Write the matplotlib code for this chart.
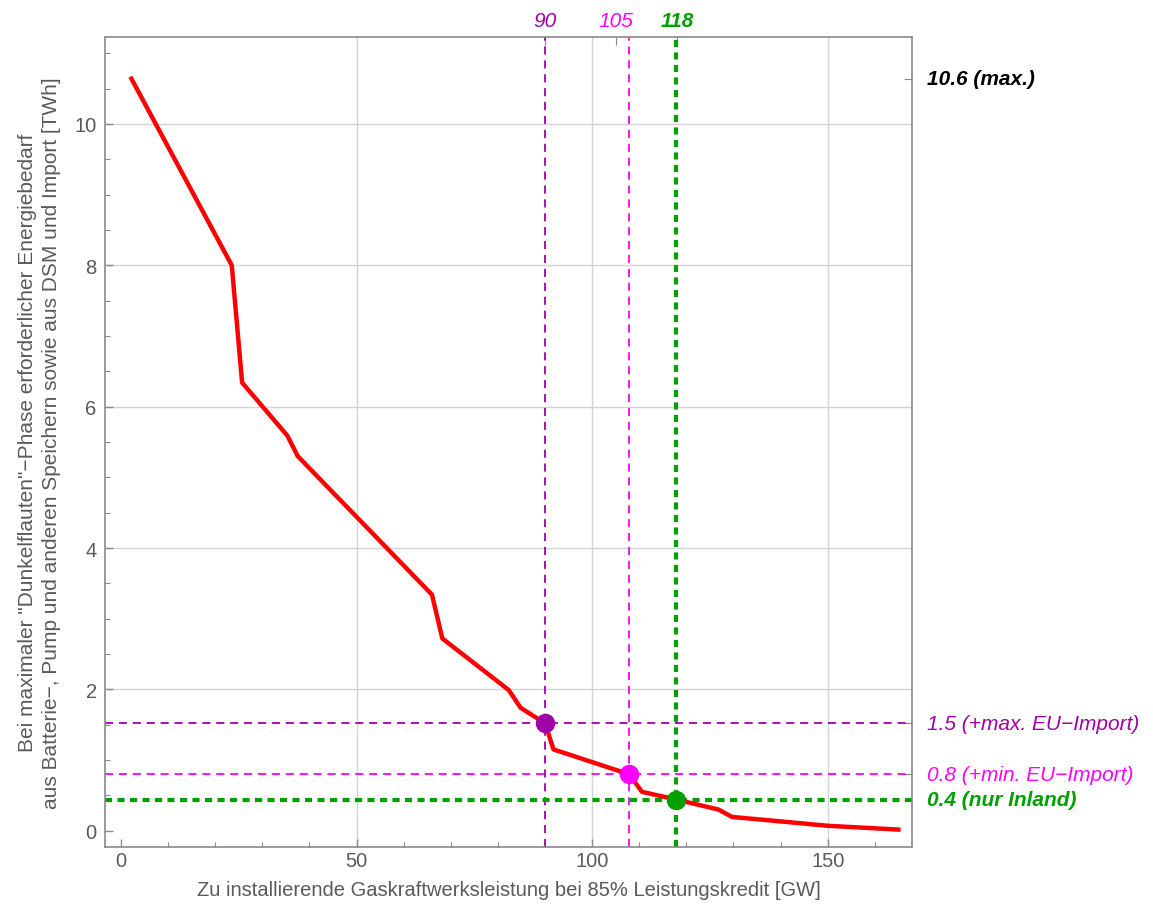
import numpy as np
import matplotlib.pyplot as plt
from matplotlib.ticker import MultipleLocator

plt.rcParams['font.family'] = ['Liberation Sans', 'DejaVu Sans']

# gas capacity [GW] vs. required storage/import energy [TWh]
gas_gw = [2.2, 23.5, 25.7, 35.3, 37.5, 66.0, 68.2, 82.3, 84.8, 90.0, 91.8,
          107.8, 110.6, 117.9, 126.8, 129.7, 137.1, 150.0, 165.0]
energy_twh = [10.64, 8.00, 6.34, 5.59, 5.30, 3.34, 2.72, 1.99, 1.74, 1.52, 1.15,
              0.80, 0.55, 0.44, 0.30, 0.195, 0.15, 0.07, 0.016]

# scenarios: capacity, energy, top tick, colour, text
scen_gw = [90.0, 107.8, 117.9]
scen_twh = [1.52, 0.80, 0.44]
scen_top = [90, 105, 118]
scen_col = ['#a000a8', '#ff00ff', '#00a000']
scen_txt = ['(+max. EU\u2212Import)', '(+min. EU\u2212Import)', '(nur Inland)']
scen_bold = [False, False, True]

grey = '#8a8a8a'
txt_grey = '#5a5a5a'

fig = plt.figure(figsize=(11.53, 9.12), dpi=100)
ax = fig.add_axes([0.0911, 0.0702, 0.7003, 0.8881])

ax.set_xlim(-3.4, 168.0)
ax.set_ylim(-0.23, 11.23)

for gx in [50, 100, 150]:
    ax.axvline(gx, color='#d4d4d4', lw=1.0, zorder=0)
for gy in [2, 4, 6, 8, 10]:
    ax.axhline(gy, color='#d4d4d4', lw=1.0, zorder=0)

# scenario cross-hairs
for gx, gy, c, b in zip(scen_gw, scen_twh, scen_col, scen_bold):
    lw = 3.0 if b else 1.3
    dash = (1.7, 1.3) if b else (4.5, 3.2)
    ax.axvline(gx, color=c, lw=lw, dashes=dash, zorder=2)
    ax.axhline(gy, color=c, lw=lw, dashes=dash, zorder=2)

ax.plot(gas_gw, energy_twh, color='#ff0000', lw=3.2, zorder=3)

for gx, gy, c in zip(scen_gw, scen_twh, scen_col):
    ax.plot(gx, gy, 'o', color=c, ms=13, zorder=4)

ax.set_xticks([0, 50, 100, 150])
ax.set_yticks([0, 2, 4, 6, 8, 10])
ax.xaxis.set_minor_locator(MultipleLocator(10))
ax.yaxis.set_minor_locator(MultipleLocator(0.5))
ax.tick_params(which='both', direction='in', color=grey, labelcolor=txt_grey,
               labelsize=14.5, top=False, right=False)
ax.tick_params(which='major', length=6, width=1)
ax.tick_params(which='minor', length=3.5, width=0.8)
ax.tick_params(axis='x', pad=3)
ax.tick_params(axis='y', pad=6)
for sp in ax.spines.values():
    sp.set_color(grey)
    sp.set_linewidth(1.2)

ax.set_xlabel('Zu installierende Gaskraftwerksleistung bei 85% Leistungskredit [GW]',
              fontsize=14.5, color=txt_grey, labelpad=7)
ax.set_ylabel('Bei maximaler "Dunkelflauten"\u2212Phase erforderlicher Energiebedarf\n'
              'aus Batterie\u2212, Pump und anderen Speichern sowie aus DSM und Import [TWh]',
              fontsize=15, color=txt_grey, labelpad=10, linespacing=1.3)

# top axis: scenario capacities (tick marks only, labels as text)
top = ax.secondary_xaxis('top')
top.set_xticks(scen_top, labels=[''] * len(scen_top))
top.tick_params(direction='in', length=6, color=grey)
top.spines['top'].set_visible(False)
for v, c, b in zip(scen_top, scen_col, scen_bold):
    ax.text(v, 1.009, str(v), transform=ax.get_xaxis_transform(),
            fontsize=15, fontstyle='italic', fontweight='bold' if b else 'normal',
            color=c, ha='center', va='bottom')

# right axis: maximum and scenario energies
e_max = max(energy_twh)
right = ax.secondary_yaxis('right')
right.set_yticks([e_max] + scen_twh, labels=[''] * (1 + len(scen_twh)))
right.tick_params(direction='in', length=6, color=grey)
right.spines['right'].set_visible(False)

ax.text(1.018, e_max, f'{e_max:.1f} (max.)', transform=ax.get_yaxis_transform(),
        fontsize=15, fontstyle='italic', fontweight='bold', color='black',
        va='center', ha='left')
for gy, c, t, b in zip(scen_twh, scen_col, scen_txt, scen_bold):
    ax.text(1.018, gy, f'{gy:.1f} {t}', transform=ax.get_yaxis_transform(),
            fontsize=15, fontstyle='italic', fontweight='bold' if b else 'normal',
            color=c, va='center', ha='left')

fig.savefig('out.png', dpi=100)
